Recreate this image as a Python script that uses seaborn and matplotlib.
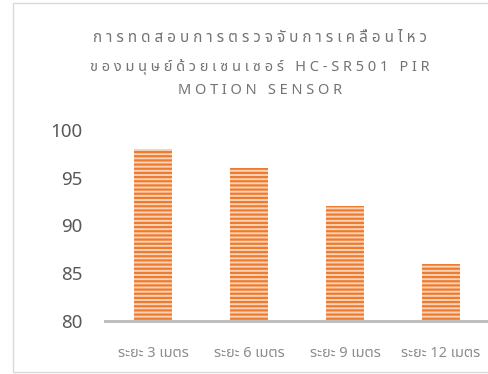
import matplotlib
matplotlib.use("Agg")
import matplotlib.pyplot as plt
from matplotlib.patches import Rectangle
import seaborn as sns
import pandas as pd

# ---- data ----
categories = ["ระยะ 3 เมตร", "ระยะ 6 เมตร", "ระยะ 9 เมตร", "ระยะ 12 เมตร"]
values = [98, 96, 92, 86]
yticks = [80, 85, 90, 95, 100]
title_lines = ["การทดสอบการตรวจจับการเคลื่อนไหว",
               "ของมนุษย์ด้วยเซนเซอร์ HC-SR501 PIR",
               "MOTION SENSOR"]

sns.set_theme(style="white")
plt.rcParams["font.family"] = ["Noto Sans", "Noto Sans Thai", "DejaVu Sans"]
plt.rcParams["hatch.linewidth"] = 1.6

W, H = 489, 374
fig = plt.figure(figsize=(W / 100, H / 100), dpi=100)
fig.patch.set_facecolor("white")

# outer chart-area border
fig.add_artist(Rectangle((13 / W, 2 / H), 520 / W, 369 / H, transform=fig.transFigure,
                         fill=False, edgecolor="#D9D9D9", linewidth=1.0))

ax = fig.add_axes([105 / W, (H - 321) / H, (489 - 105) / W, (321 - 130) / H])
df = pd.DataFrame({"cat": categories, "val": values})
sns.barplot(data=df, x="cat", y="val", color="#FBD3B6", saturation=1, width=0.39, ax=ax)
for p in ax.patches:
    p.set_edgecolor("#EE7C30")
    p.set_linewidth(0)
    p.set_hatch("----")

ax.set_ylim(80, 100)
ax.set_xlim(-0.5, 3.5)
ax.set_yticks(yticks)
ax.set_xlabel("")
ax.set_ylabel("")
ax.set_facecolor("none")
for s in ["top", "right", "left"]:
    ax.spines[s].set_visible(False)
ax.spines["bottom"].set_color("#BFBFBF")
ax.spines["bottom"].set_linewidth(2.2)
ax.tick_params(axis="y", length=0, pad=16, labelsize=13.5, labelcolor="#595959")
ax.tick_params(axis="x", length=0, pad=18, labelsize=10.5, labelcolor="#8C8C8C")
for lab in ax.get_xticklabels():
    lab.set_fontfamily(["Noto Sans Thai", "Noto Sans"])

# letter-spaced title
def spaced(s):
    marks = set(range(0x0E31, 0x0E32)) | set(range(0x0E34, 0x0E3B)) | set(range(0x0E47, 0x0E4F))
    clusters = []
    for ch in s:
        if clusters and ord(ch) in marks:
            clusters[-1] += ch
        else:
            clusters.append(ch)
    return " ".join(clusters)

title_y = [38, 67, 90]
title_size = [11, 10.5, 10.5]
for line, yy, fs in zip(title_lines, title_y, title_size):
    fig.text(260 / W, 1 - yy / H, spaced(line), ha="center", va="center",
             fontsize=fs, color="#737373", family=["Noto Sans Thai", "Noto Sans"])

fig.savefig("out.png", dpi=100)
